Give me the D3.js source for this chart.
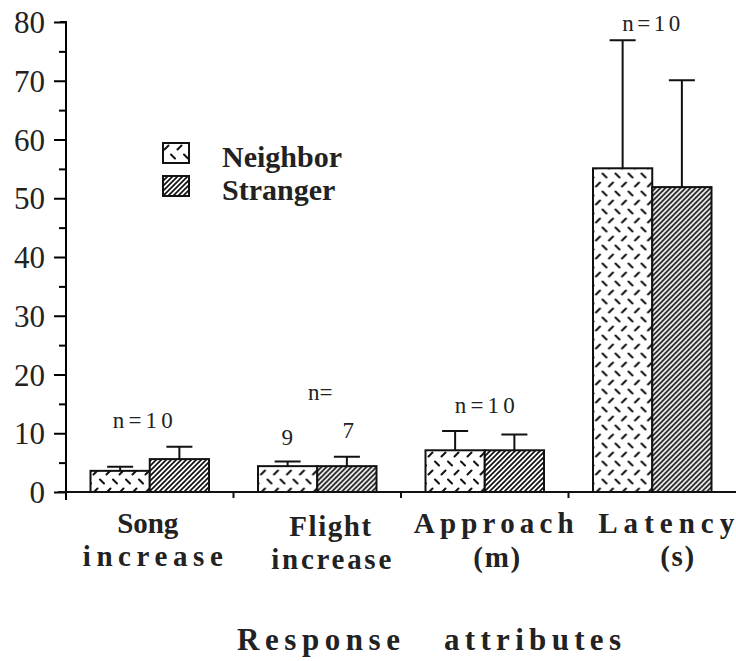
<!DOCTYPE html>
<html>
<head>
<meta charset="utf-8">
<script src="https://cdn.jsdelivr.net/npm/d3@7"></script>
<style>
  html, body { margin: 0; padding: 0; background: #fff; }
  svg { display: block; }
</style>
</head>
<body>
<div id="chart"></div>
<script>
// data
const categories = ['Song increase', 'Flight increase', 'Approach (m)', 'Latency (s)'];
const labelLines = [['Song', 'increase'], ['Flight', 'increase'], ['Approach', '(m)'], ['Latency', '(s)']];
const series = ['Neighbor', 'Stranger'];
const neighborMean = [3.6, 4.4, 7.1, 55.1];
const neighborUpper = [4.3, 5.2, 10.4, 76.9];
const strangerMean = [5.6, 4.4, 7.1, 51.9];
const strangerUpper = [7.7, 6.0, 9.8, 70.1];
const yTicks = [0, 10, 20, 30, 40, 50, 60, 70, 80];
const yMinorTicks = [5, 15, 25, 35, 45, 55, 65, 75];
const xTitle = ['Response', 'attributes'];

const width = 736, height = 661;
const font = '"Liberation Serif"';

const svg = d3.select('#chart').append('svg')
  .attr('width', width)
  .attr('height', height);

const defs = svg.append('defs');

// neighbor: diamond-plate style short dashes
const pn = defs.append('pattern')
  .attr('id', 'neighbor')
  .attr('patternUnits', 'userSpaceOnUse')
  .attr('width', 13).attr('height', 18);
pn.append('rect').attr('width', 13).attr('height', 18).attr('fill', '#fff');
pn.append('path')
  .attr('d', 'M1.5,6.5 L5.5,2.5 M8,11.5 L12,15.5')
  .attr('stroke', '#111').attr('stroke-width', 2).attr('stroke-linecap', 'round');

// stranger: dense forward hatching
const ps = defs.append('pattern')
  .attr('id', 'stranger')
  .attr('patternUnits', 'userSpaceOnUse')
  .attr('width', 5).attr('height', 5);
ps.append('rect').attr('width', 5).attr('height', 5).attr('fill', '#fff');
ps.append('path')
  .attr('d', 'M0,5 L5,0 M-1,1 L1,-1 M4,6 L6,4')
  .attr('stroke', '#111').attr('stroke-width', 1.7);

const fills = { Neighbor: 'url(#neighbor)', Stranger: 'url(#stranger)' };

const x0 = d3.scaleBand().domain(categories).range([66, 736]);
const x1 = d3.scaleBand().domain(series).range([24.5, x0.bandwidth() - 24.5]);
const y = d3.scaleLinear().domain([0, 80]).range([492, 22]);

const rows = categories.map((c, i) => ({
  cat: c,
  values: [
    { key: 'Neighbor', mean: neighborMean[i], upper: neighborUpper[i] },
    { key: 'Stranger', mean: strangerMean[i], upper: strangerUpper[i] }
  ]
}));

// bars
const groups = svg.append('g').selectAll('g')
  .data(rows).join('g')
  .attr('transform', d => `translate(${x0(d.cat)},0)`);

groups.selectAll('rect')
  .data(d => d.values).join('rect')
  .attr('x', d => x1(d.key))
  .attr('y', d => y(d.mean))
  .attr('width', x1.bandwidth())
  .attr('height', d => y(0) - y(d.mean))
  .attr('fill', d => fills[d.key])
  .attr('stroke', '#111')
  .attr('stroke-width', 2);

// error bars (upper only)
const capW = 26;
groups.selectAll('path.err')
  .data(d => d.values).join('path')
  .attr('class', 'err')
  .attr('d', d => {
    const cx = x1(d.key) + x1.bandwidth() / 2;
    return `M${cx},${y(d.mean)}V${y(d.upper)}M${cx - capW / 2},${y(d.upper)}H${cx + capW / 2}`;
  })
  .attr('fill', 'none')
  .attr('stroke', '#111')
  .attr('stroke-width', 2);

// y axis
const yAxis = svg.append('g')
  .attr('transform', 'translate(66,0)')
  .call(d3.axisLeft(y).tickValues(yTicks).tickSize(12).tickPadding(9).tickFormat(d3.format('d')));
yAxis.select('.domain').attr('stroke-width', 2).attr('d', `M-6,${y(80)}H0V${y(0) + 8}`);
yAxis.selectAll('.tick line').attr('stroke-width', 2);
yAxis.selectAll('.tick text')
  .style('font-family', font)
  .style('font-size', '31px')
  .attr('fill', '#222')
  .attr('dy', '0.34em');

const yMinor = svg.append('g')
  .attr('transform', 'translate(66,0)')
  .call(d3.axisLeft(y).tickValues(yMinorTicks).tickSize(7).tickFormat(''));
yMinor.select('.domain').remove();
yMinor.selectAll('.tick line').attr('stroke-width', 2);

// x axis baseline with separators between categories
svg.append('line')
  .attr('x1', 58).attr('x2', width)
  .attr('y1', y(0)).attr('y2', y(0))
  .attr('stroke', '#111').attr('stroke-width', 2);
svg.append('g').selectAll('line')
  .data(categories.slice(1)).join('line')
  .attr('x1', d => x0(d)).attr('x2', d => x0(d))
  .attr('y1', y(0)).attr('y2', y(0) + 6)
  .attr('stroke', '#111').attr('stroke-width', 2);

// category labels
const labelLayout = [
  { dx: [-2, 3], len: [61, 140], dy: [533, 566] },
  { dx: [13, 14], len: [82, 120], dy: [536, 569] },
  { dx: [9, 12], len: [160, 47], dy: [533, 567] },
  { dx: [14, 25], len: [136, 34], dy: [533, 566] }
];
categories.forEach((c, i) => {
  const cx = x0(c) + x0.bandwidth() / 2;
  labelLines[i].forEach((t, j) => {
    svg.append('text')
      .attr('x', cx + labelLayout[i].dx[j] - labelLayout[i].len[j] / 2)
      .attr('y', labelLayout[i].dy[j])
      .attr('textLength', labelLayout[i].len[j])
      .attr('lengthAdjust', 'spacing')
      .attr('fill', '#222')
      .style('font-family', font)
      .style('font-weight', 'bold')
      .style('font-size', '29px')
      .text(t);
  });
});

// axis title
xTitle.forEach((t, i) => {
  svg.append('text')
    .attr('x', i ? 444 : 237).attr('y', 650)
    .attr('textLength', i ? 177 : 163).attr('lengthAdjust', 'spacing')
    .attr('fill', '#222')
    .style('font-family', font).style('font-weight', 'bold').style('font-size', '31px')
    .text(t);
});

// sample sizes
const mid = c => x0(c) + x0.bandwidth() / 2;
const nText = (x, yy, t, len) => {
  const el = svg.append('text')
    .attr('x', x).attr('y', yy)
    .attr('fill', '#222')
    .style('font-family', font)
    .style('font-size', '23px')
    .text(t);
  if (len) el.attr('x', x - len / 2).attr('textLength', len).attr('lengthAdjust', 'spacing');
  else el.attr('text-anchor', 'middle');
};
nText(mid(categories[0]) - 7, 428, 'n=10', 60);
nText(mid(categories[1]) + 3, 400, 'n=', 0);
nText(mid(categories[1]) - 30, 445, '9', 0);
nText(mid(categories[1]) + 31, 438, '7', 0);
nText(mid(categories[2]), 413, 'n=10', 60);
nText(mid(categories[3]) - 1, 31, 'n=10', 58);

// legend
const legend = svg.append('g').attr('transform', 'translate(163,143)');
series.forEach((s, i) => {
  const g = legend.append('g').attr('transform', `translate(0,${i * 33})`);
  g.append('rect')
    .attr('width', 26).attr('height', 20)
    .attr('fill', fills[s]).attr('stroke', '#111').attr('stroke-width', 2);
  g.append('text')
    .attr('x', 59).attr('y', 24)
    .attr('fill', '#222')
    .style('font-family', font).style('font-weight', 'bold').style('font-size', '30px')
    .text(s);
});
</script>
</body>
</html>
